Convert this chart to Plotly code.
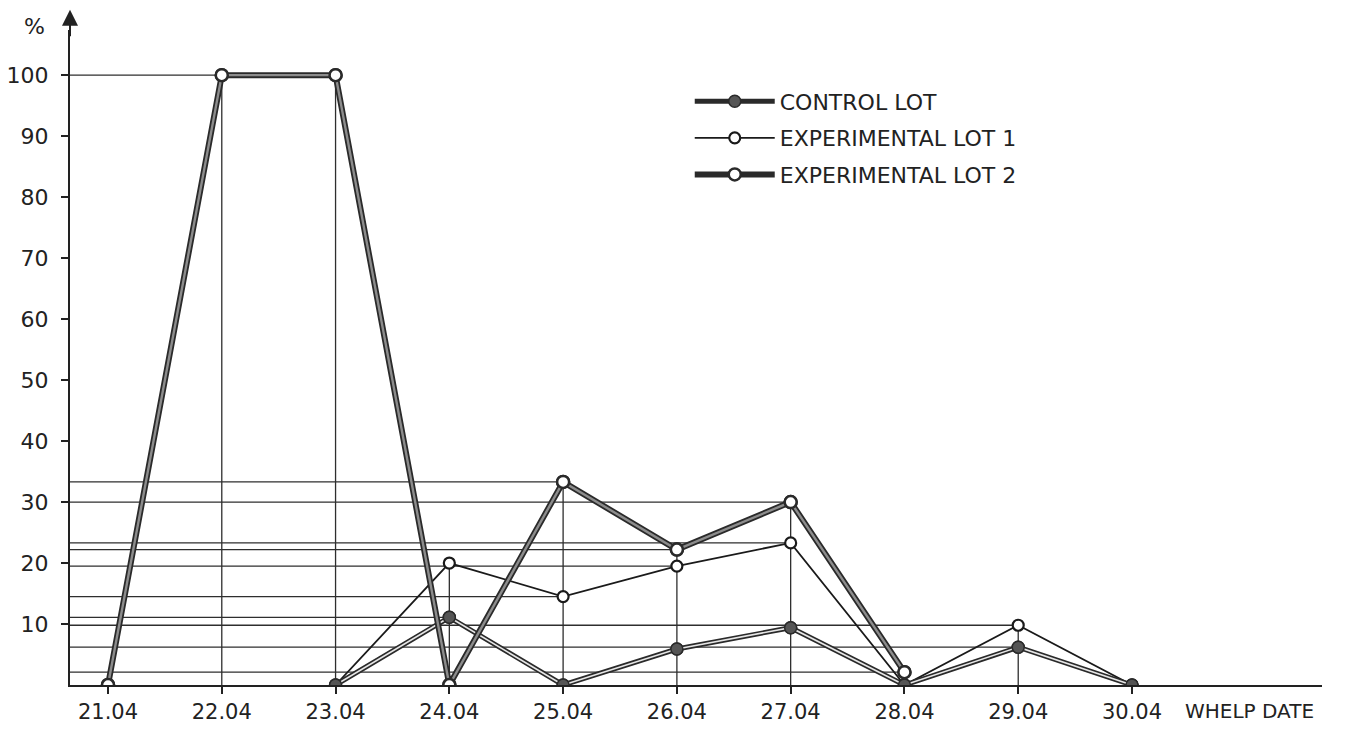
import plotly.graph_objects as go

# ---- data ----
dates = ["21.04", "22.04", "23.04", "24.04", "25.04", "26.04", "27.04", "28.04", "29.04", "30.04"]
control_lot = [None, None, 0, 11.1, 0, 5.9, 9.4, 0, 6.2, 0]
experimental_lot_1 = [None, None, 0, 20, 14.5, 19.5, 23.3, 0, 9.8, 0]
experimental_lot_2 = [0, 100, 100, 0, 33.3, 22.2, 30, 2.1, None, None]
y_ticks = [10, 20, 30, 40, 50, 60, 70, 80, 90, 100]

FONT = "DejaVu Sans"
INK = "#222222"
X_RANGE = [-0.334, 10.67]
Y_RANGE = [0, 107.4]

fig = go.Figure()

# ---- construction (guide) lines derived from the data ----
series_all = [control_lot, experimental_lot_1, experimental_lot_2]
points = []
for s in series_all:
    for i, v in enumerate(s):
        if v is not None and v > 0:
            points.append((i, v))

shapes = []
# horizontal guides from the y axis to each point (merged when a nearly equal value lies further right)
for (i, v) in points:
    if any(abs(v2 - v) <= 1.0 and i2 > i for (i2, v2) in points):
        continue
    shapes.append(dict(type="line", xref="x", yref="y", x0=X_RANGE[0], x1=i, y0=v, y1=v,
                       line=dict(color="#2e2e2e", width=1.3), layer="below"))
# vertical guides from the baseline to the highest point of each date
for i in range(len(dates)):
    vals = [s[i] for s in series_all if s[i] is not None]
    if vals and max(vals) > 0:
        shapes.append(dict(type="line", xref="x", yref="y", x0=i, x1=i, y0=0, y1=max(vals),
                           line=dict(color="#2e2e2e", width=1.3), layer="below"))

# ---- series ----
# Experimental lot 1: thin single line, open circles
fig.add_trace(go.Scatter(
    x=dates, y=experimental_lot_1, mode="lines+markers", name="EXPERIMENTAL LOT 1",
    legendgroup="e1", legendrank=2,
    line=dict(color="#1a1a1a", width=1.8),
    marker=dict(symbol="circle", size=11, color="white", line=dict(color="#1a1a1a", width=2.2)),
    connectgaps=False,
))

# Control lot: double line, filled circles
fig.add_trace(go.Scatter(
    x=dates, y=control_lot, mode="lines+markers", name="CONTROL LOT",
    legendgroup="c", legendrank=1,
    line=dict(color="#2a2a2a", width=5),
    marker=dict(symbol="circle", size=12, color="#555555", line=dict(color="#2a2a2a", width=1.5)),
    connectgaps=False,
))
fig.add_trace(go.Scatter(
    x=dates, y=control_lot, mode="lines+markers", showlegend=False, legendgroup="c",
    line=dict(color="#e6e6e6", width=1.6),
    marker=dict(symbol="circle", size=12, color="#555555", line=dict(color="#2a2a2a", width=1.5)),
    connectgaps=False, hoverinfo="skip",
))

# Experimental lot 2: heavy double line, open circles
fig.add_trace(go.Scatter(
    x=dates, y=experimental_lot_2, mode="lines+markers", name="EXPERIMENTAL LOT 2",
    legendgroup="e2", legendrank=3,
    line=dict(color="#2a2a2a", width=6),
    marker=dict(symbol="circle", size=12, color="white", line=dict(color="#2a2a2a", width=2.5)),
    connectgaps=False,
))
fig.add_trace(go.Scatter(
    x=dates, y=experimental_lot_2, mode="lines+markers", showlegend=False, legendgroup="e2",
    line=dict(color="#8c8c8c", width=2.4),
    marker=dict(symbol="circle", size=12, color="white", line=dict(color="#2a2a2a", width=2.5)),
    connectgaps=False, hoverinfo="skip",
))

# the page body adds an 8px margin, so the figure is sized to fit inside the window
fig.update_layout(
    width=1331, height=715,
    margin=dict(l=62, r=17, t=22, b=38),
    paper_bgcolor="white", plot_bgcolor="white",
    font=dict(family=FONT, color=INK, size=21),
    shapes=shapes,
    showlegend=True,
    legend=dict(
        x=0.495, y=0.923, xanchor="left", yanchor="top",
        bgcolor="rgba(255,255,255,0)", borderwidth=0,
        font=dict(family=FONT, size=22, color=INK),
        itemwidth=80, traceorder="grouped", tracegroupgap=5,
    ),
    xaxis=dict(
        type="category", categoryorder="array", categoryarray=dates,
        range=X_RANGE, showgrid=False, zeroline=False, automargin=False,
        showline=True, linecolor=INK, linewidth=2,
        ticks="outside", ticklen=7, tickwidth=1.5, tickcolor=INK,
        tickfont=dict(family=FONT, size=21, color=INK),
    ),
    yaxis=dict(
        range=Y_RANGE, showgrid=False, zeroline=False, automargin=False,
        showline=True, linecolor=INK, linewidth=2,
        ticks="outside", ticklen=7, tickwidth=1.5, tickcolor=INK,
        tickvals=y_ticks, ticktext=[str(v) for v in y_ticks],
        tickfont=dict(family=FONT, size=22, color=INK),
        ticklabelstandoff=8,
    ),
    annotations=[
        # arrow at the top of the y axis
        dict(xref="paper", yref="paper", x=0, y=1.031, ax=0, ay=28, text="",
             showarrow=True, arrowhead=2, arrowsize=1.6, arrowwidth=2, arrowcolor=INK),
        dict(xref="paper", yref="paper", x=-0.028, y=1.005, text="%", showarrow=False,
             font=dict(family=FONT, size=22, color=INK), xanchor="center", yanchor="middle"),
        dict(xref="paper", yref="paper", x=0.942, y=-0.04, text="WHELP DATE", showarrow=False,
             font=dict(family=FONT, size=20, color=INK), xanchor="center", yanchor="middle"),
    ],
)

fig.write_html("out.html")
